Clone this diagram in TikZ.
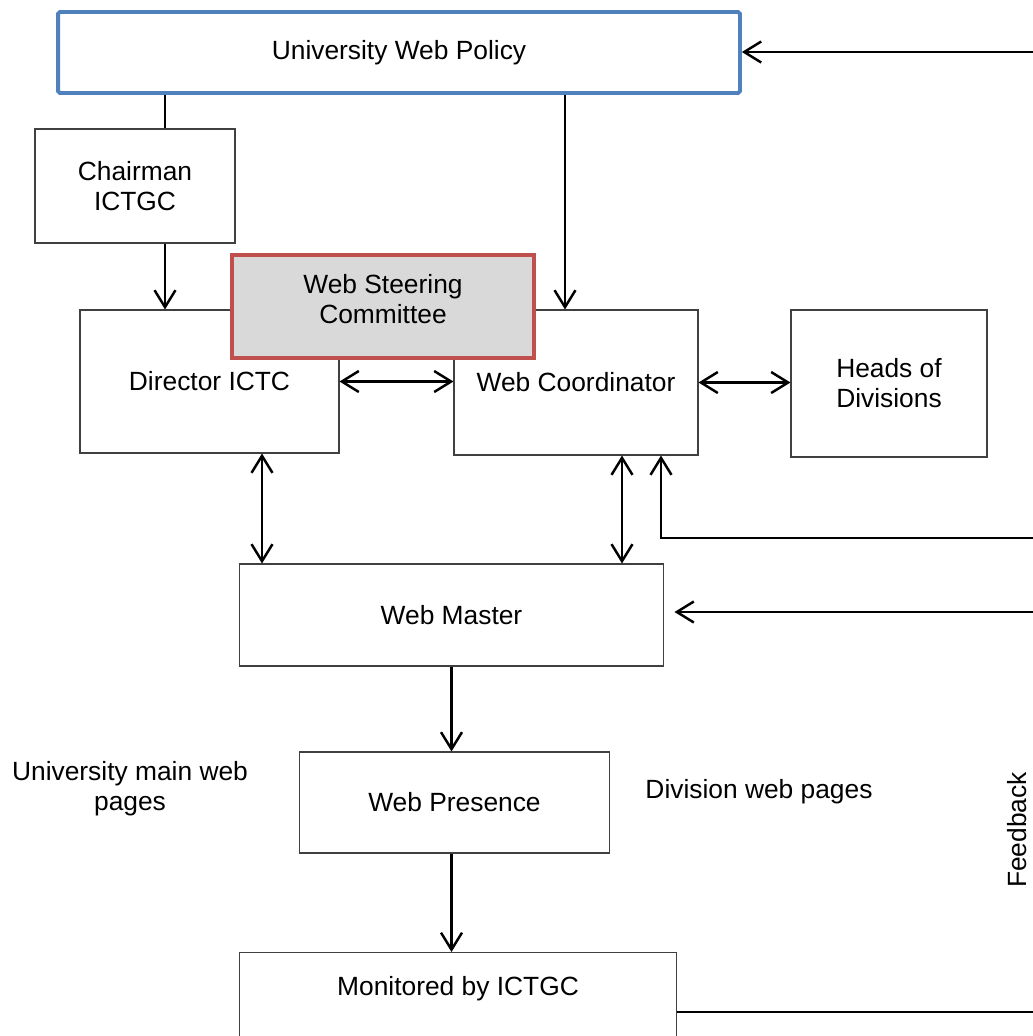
\documentclass[tikz,border=0pt]{standalone}
\usepackage{fontspec}
\setmainfont{Liberation Sans}
\usetikzlibrary{arrows.meta}

\definecolor{policyblue}{RGB}{79,129,189}
\definecolor{steerred}{RGB}{192,80,77}
\definecolor{steergray}{RGB}{217,217,217}

\tikzset{
  box/.style={draw=black!75, line width=0.6pt, rectangle, align=center, font=\fontsize{15}{17}\selectfont},
  plain/.style={align=center, font=\fontsize{15}{17}\selectfont},
  link/.style={line width=1.4pt},
  arr/.style={link, -{Straight Barb[length=0.34cm,width=0.42cm]}},
  darr/.style={link, {Straight Barb[length=0.34cm,width=0.42cm]}-{Straight Barb[length=0.34cm,width=0.42cm]}}
}

\begin{document}
\begin{tikzpicture}[x=0.02cm, y=-0.02cm]
        \clip (0,0) rectangle (1033,1036);

        \node[box, draw=policyblue, line width=2.2pt, rounded corners=1pt,
              minimum width=13.64cm, minimum height=1.62cm] (policy) at (399,52.5) {University Web Policy};
        \node[box, minimum width=4cm, minimum height=2.28cm] (chair) at (135,186) {Chairman\\ICTGC};
        \node[box, minimum width=5.18cm, minimum height=2.86cm] (director) at (209.5,381.5) {Director ICTC};
        \node[box, minimum width=4.88cm, minimum height=2.9cm] (coord) at (576,382.5) {Web Coordinator};
        \node[box, minimum width=3.92cm, minimum height=2.94cm] (heads) at (889,383.5) {Heads of\\Divisions};
        \node[box, draw=steerred, fill=steergray, line width=2.2pt, text depth=0.3cm,
              minimum width=6.04cm, minimum height=2.06cm] (steer) at (383,306.5) {Web Steering\\Committee};
        \node[box, minimum width=8.5cm, minimum height=2.04cm] (master) at (451.5,615) {Web Master};
        \node[box, minimum width=6.22cm, minimum height=2.02cm] (presence) at (454.5,802.5) {Web Presence};
        \node[box, anchor=north, minimum width=8.76cm, inner ysep=0.47cm, text depth=1.5cm] (monitor) at (458,952) {Monitored by ICTGC};

        \node[plain] (mainpages) at (130,789) {University main web\\pages};
        \node[plain] (divpages) at (759,792) {Division web pages};
        \node[plain, rotate=90] (feedback) at (1017,830) {Feedback};

        % columns of the vertical links
        \coordinate (cx) at (165,0);
        \coordinate (px) at (565,0);
        \coordinate (lx) at (262,0);
        \coordinate (rx) at (622,0);
        \coordinate (fx) at (661,0);
        % loose ends on the right
        \coordinate (fb0) at (1040,52);
        \coordinate (fb1) at (1040,538);
        \coordinate (fb2) at (1040,612);
        \coordinate (fb3) at (1040,1012);

        \draw[link] (policy.south -| cx) -- (chair.north -| cx);
        \draw[arr] (chair.south -| cx) -- (director.north -| cx);
        \draw[arr] (policy.south -| px) -- (coord.north -| px);
        \draw[darr] (director.east) -- (director.east -| coord.west);
        \draw[darr] (coord.east) -- (coord.east -| heads.west);
        \draw[darr] (director.south -| lx) -- (master.north -| lx);
        \draw[darr] (coord.south -| rx) -- (master.north -| rx);
        \draw[arr] (master.south) -- (master.south |- presence.north);
        \draw[arr] (presence.south -| master.south) -- (master.south |- monitor.north);

        \draw[arr] (fb0) -- (fb0 -| policy.east);
        \draw[arr] (fb1) -| (coord.south -| fx);
        \draw[arr, shorten >=0.2cm] (fb2) -- (fb2 -| master.east);
        \draw[link] (fb3 -| monitor.east) -- (fb3);
\end{tikzpicture}
\end{document}
